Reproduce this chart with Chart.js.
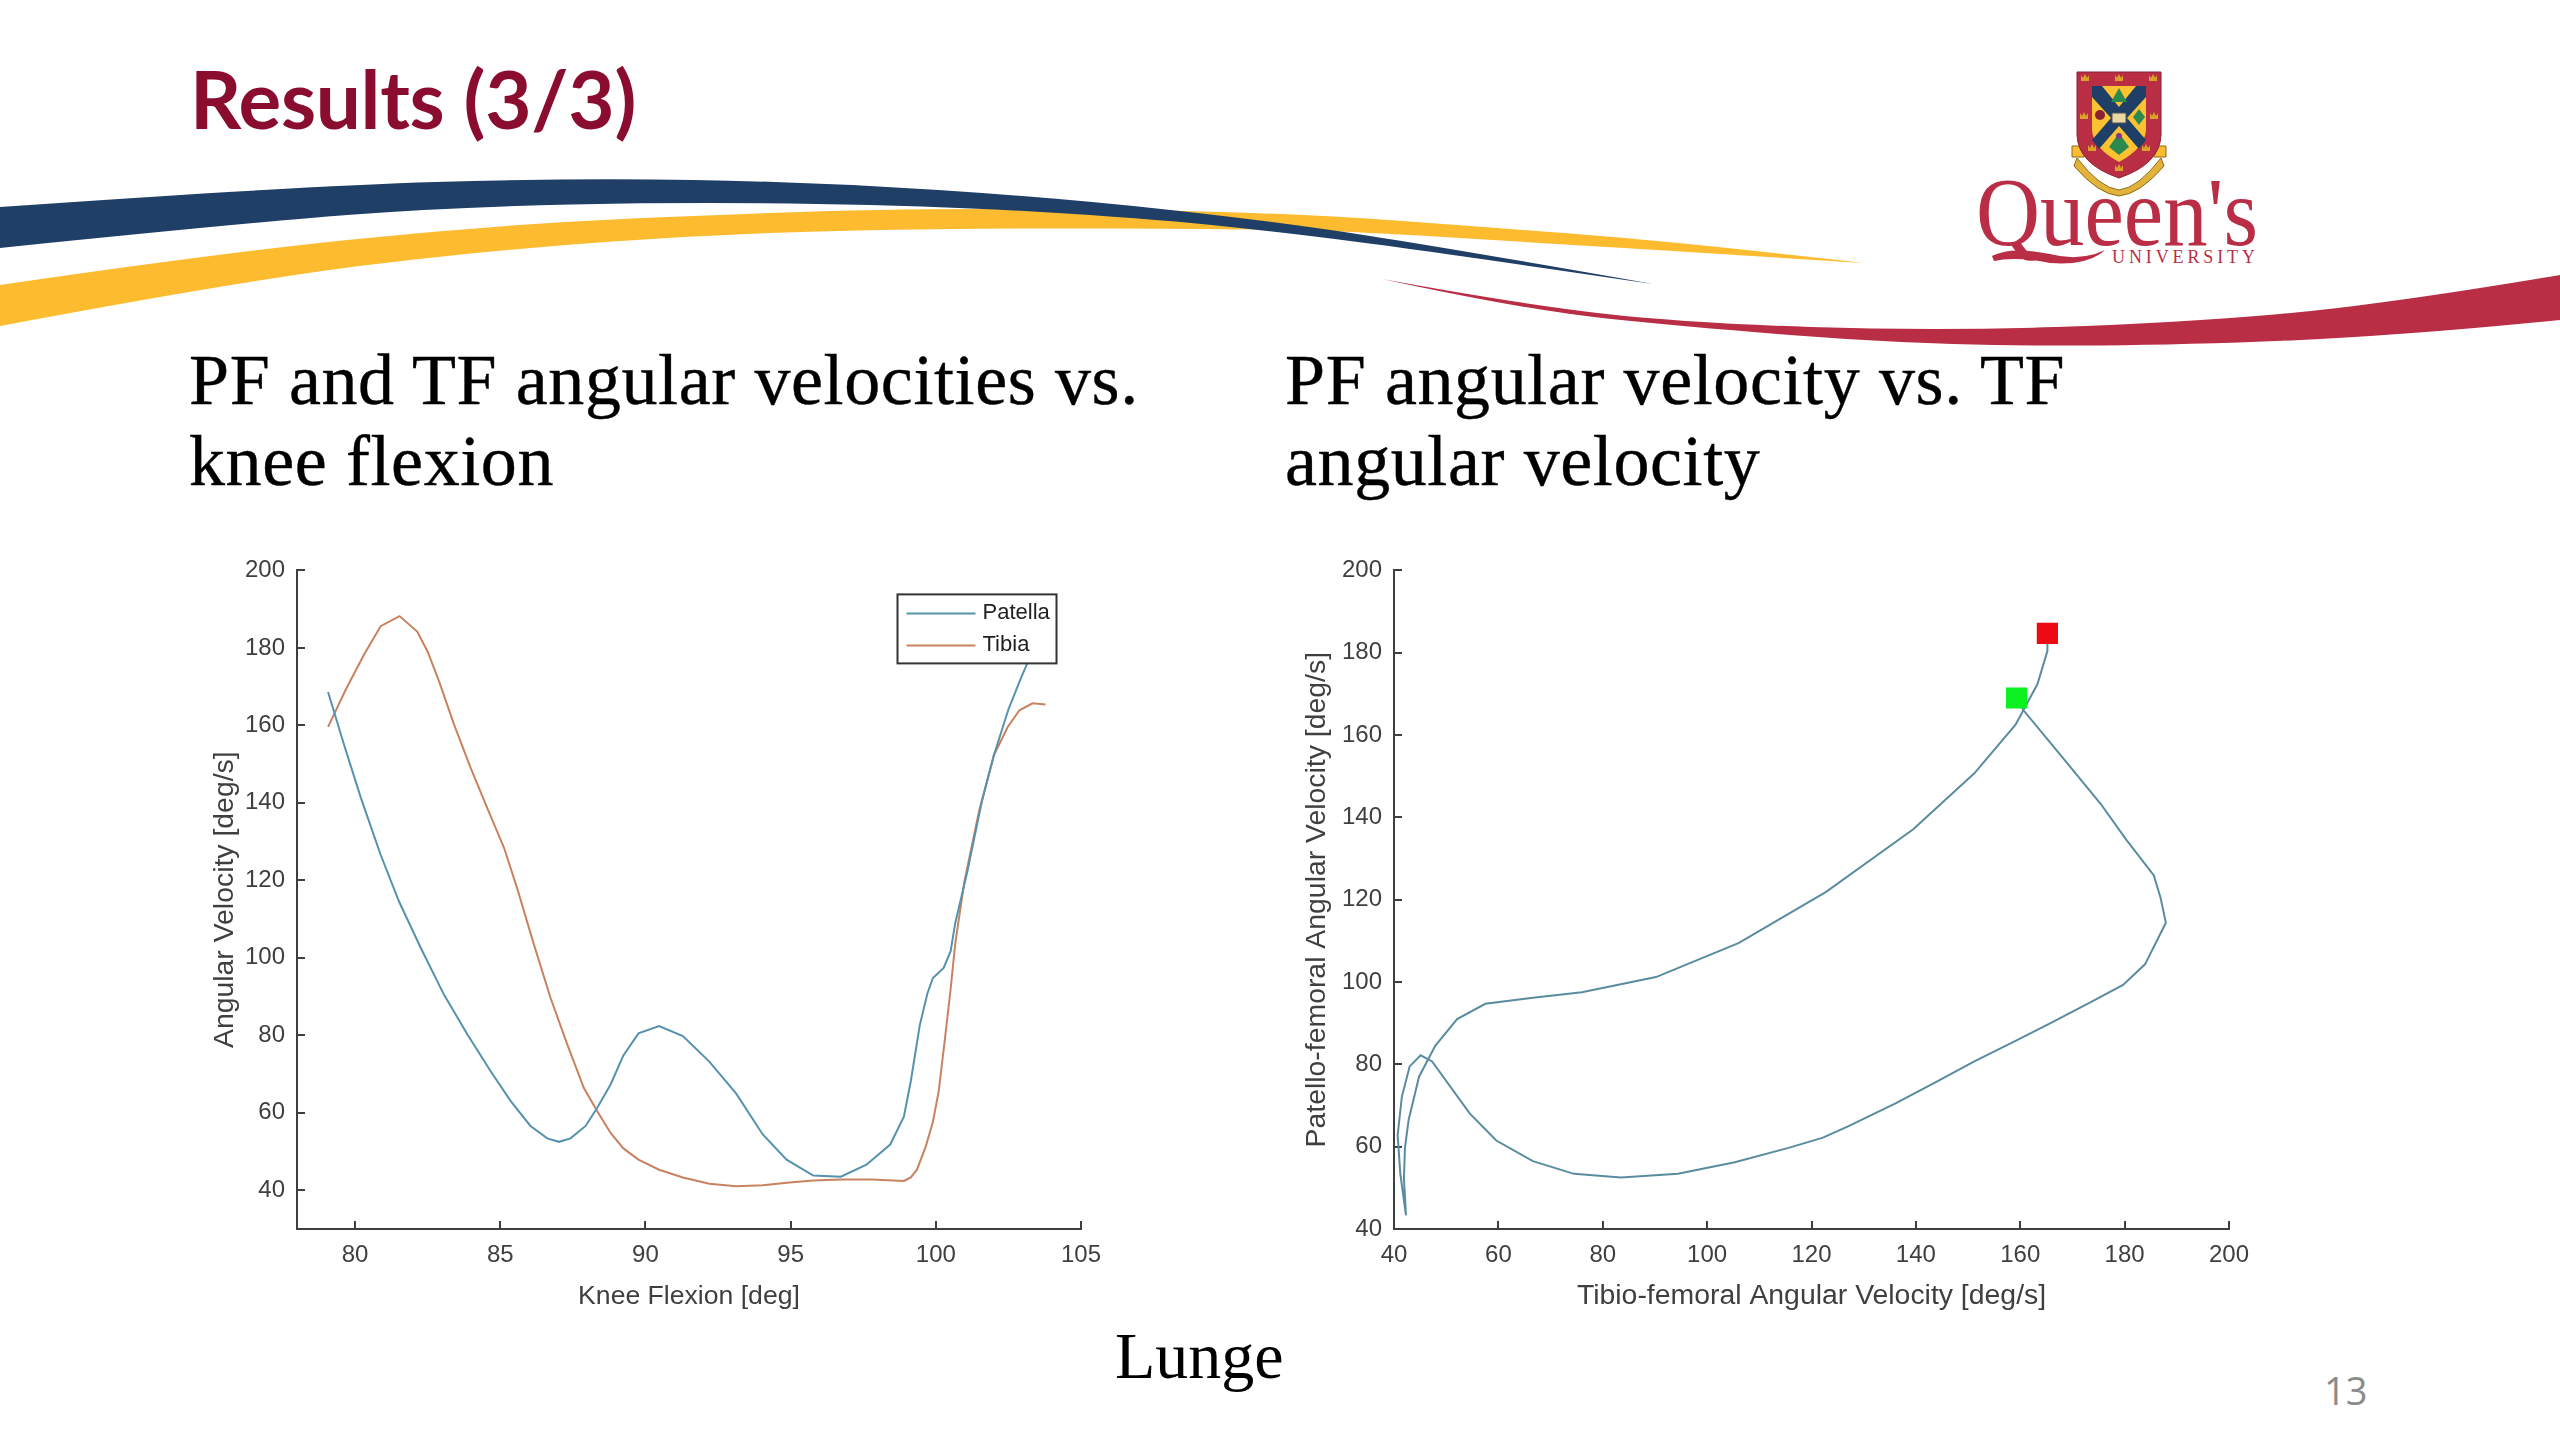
<!DOCTYPE html>
<html>
<head>
<meta charset="utf-8">
<title>Results (3/3)</title>
<script src="https://cdn.jsdelivr.net/npm/chart.js@4"></script>
<style>
  html, body { margin: 0; padding: 0; background: #fff; }
  #slide { position: relative; width: 2560px; height: 1440px; overflow: hidden; background: #fff; }
  #slide > svg { position: absolute; left: 0; top: 0; }
  .txt { position: absolute; white-space: nowrap; }
  #title { left: 190px; top: 50px; font: bold 80px Lato, sans-serif; color: #8a0c2e; letter-spacing: -0.3px; }
  .head { font: 72px/81px "Liberation Serif", serif; color: #000; letter-spacing: 0.6px; -webkit-text-stroke: 0.4px #000; }
  #headLeft { left: 189px; top: 340px; }
  #headRight { left: 1285px; top: 340px; }
  #lunge { left: 1115px; top: 1318px; font: 66px "Liberation Serif", serif; color: #000; }
  #pageNo { left: 2324px; top: 1364px; font: 38px "Open Sans", sans-serif; color: #8b8b8b; }
  .plot { position: absolute; top: 536px; height: 777px; }
</style>
</head>
<body>
<div id="slide">
  <svg id="banner" width="2560" height="1440" viewBox="0 0 2560 1440"></svg>
  <div class="txt" id="title">Results (3/3)</div>
  <div class="txt head" id="headLeft">PF and TF angular velocities vs.<br>knee flexion</div>
  <div class="txt head" id="headRight">PF angular velocity vs. TF<br>angular velocity</div>
  <div class="txt" id="lunge">Lunge</div>
  <div class="txt" id="pageNo">13</div>
  <div class="plot" style="left:208px;width:922px"><canvas id="flexionChart"></canvas></div>
  <div class="plot" style="left:1300px;width:980px"><canvas id="velocityChart"></canvas></div>
</div>

<script>
// Left chart values
const patellaFlexion = [79.07, 79.62, 80.2, 80.88, 81.51, 82.26, 83.06, 83.87, 84.67, 85.36, 86.04, 86.62, 87.02, 87.42, 87.94, 88.34, 88.8, 89.24, 89.76, 90.47, 91.29, 92.2, 93.12, 94.04, 94.86, 95.78, 96.73, 97.61, 98.43, 98.9, 99.14, 99.45, 99.71, 99.9, 100.27, 100.51, 100.67, 101.08, 101.59, 102, 102.5, 102.92, 103.16, 103.78];
const patellaVelocity = [168.6, 155, 141.3, 126.6, 114.6, 102.6, 90.5, 80.2, 70.7, 63, 56.6, 53.4, 52.5, 53.4, 56.6, 61.3, 67.3, 74.8, 80.5, 82.4, 79.8, 73.2, 65, 54.4, 47.9, 43.8, 43.5, 46.6, 51.8, 59, 68.2, 82.7, 90.8, 94.8, 97.4, 101.7, 109, 122.1, 140.5, 152.3, 164.1, 172, 176.2, 184.6];
const tibiaFlexion = [79.07, 79.69, 80.31, 80.88, 81.53, 82.14, 82.5, 82.89, 83.41, 83.98, 84.55, 85.13, 85.58, 86.16, 86.73, 87.31, 87.88, 88.34, 88.8, 89.24, 89.76, 90.47, 91.29, 92.2, 93.12, 94.04, 94.96, 95.78, 96.73, 97.8, 98.9, 99.14, 99.35, 99.65, 99.9, 100.1, 100.31, 100.51, 100.67, 100.98, 101.49, 102, 102.47, 102.88, 103.33, 103.78];
const tibiaVelocity = [159.6, 169.4, 178.3, 185.6, 188.2, 184.2, 179, 171.4, 160.2, 149, 138.7, 128.4, 118, 103.4, 89.7, 77.6, 66.4, 60.4, 54.8, 50.8, 47.9, 45.3, 43.3, 41.7, 41.05, 41.3, 42, 42.5, 42.8, 42.8, 42.4, 43.3, 45.3, 51.2, 57.7, 65.6, 78.8, 91.9, 103.7, 119.5, 137.9, 152.3, 159.5, 163.9, 165.7, 165.4];
const flexionTicks = [80, 85, 90, 95, 100, 105];
const leftVelocityTicks = [40, 60, 80, 100, 120, 140, 160, 180, 200];
const legendNames = ["Patella", "Tibia"];

// Right chart values
const tibioFemoral = [159.3, 160.7, 168.2, 175.4, 180.3, 185.6, 186.9, 187.9, 183.9, 179.7, 173.6, 165.8, 159.1, 151.2, 144, 136.1, 127.1, 122.2, 115.6, 105.3, 94.4, 83.5, 74.5, 66.6, 59.6, 54.5, 47.3, 45.1, 43, 41.5, 40.7, 41.2, 42.3, 41.9, 42.1, 42.8, 44.8, 47.9, 52.1, 57.5, 66.6, 76, 90.2, 106.1, 122.8, 139.5, 151.2, 159.1, 163.3, 165.2, 165.2];
const patelloFemoral = [169, 165.9, 154.4, 143.3, 134.6, 125.9, 120.4, 114.4, 104.3, 99.3, 95.2, 90, 85.7, 80.7, 75.8, 70.5, 65, 62.2, 59.7, 56.2, 53.4, 52.5, 53.4, 56.5, 61.5, 68.1, 80.7, 82.2, 79.5, 72.1, 62.8, 53.5, 43.3, 52.3, 59.7, 66.5, 77, 84.5, 91, 94.7, 96.2, 97.5, 101.2, 109.5, 121.9, 137.1, 150.7, 162.5, 172.4, 180.4, 184.7];
const startPoint = [159.3, 169];
const endPoint = [165.2, 184.7];
const velocityTicks = [40, 60, 80, 100, 120, 140, 160, 180, 200];

const blueLine = "#5592ad";
const loopLine = "#5a8c9f";
const orangeLine = "#c9825f";
const axisColor = "#3f3f3f";
const plotFont = "Liberation Sans";

function zip(xs, ys) {
  return xs.map((x, i) => ({ x: x, y: ys[i] }));
}

// MATLAB style axis: only left and bottom lines, ticks pointing inward
function axisOptions(min, max, tickValues, label, boxSize, titleSize) {
  return {
    type: "linear",
    min: min,
    max: max,
    afterBuildTicks: scale => { scale.ticks = tickValues.map(v => ({ value: v })); },
    afterFit: scale => {
      if (scale.isHorizontal()) scale.height = boxSize; else scale.width = boxSize;
    },
    grid: { drawOnChartArea: false, tickLength: -8, color: axisColor, lineWidth: 2 },
    border: { color: axisColor, width: 2 },
    ticks: { color: axisColor, padding: 20, maxRotation: 0, autoSkip: false, font: { family: plotFont, size: 24 } },
    title: { display: true, text: label, color: axisColor, padding: 0, font: { family: plotFont, size: titleSize } }
  };
}

// The MATLAB legend sits on top of the line, so it is drawn after the datasets
const legendBox = {
  id: "legendBox",
  afterDatasetsDraw(chart) {
    const ctx = chart.ctx;
    const right = chart.chartArea.right - 24.5;
    const top = chart.chartArea.top + 24;
    const sets = chart.data.datasets;
    ctx.save();
    ctx.fillStyle = "#fff";
    ctx.strokeStyle = "#333";
    ctx.lineWidth = 2;
    ctx.fillRect(right - 159, top, 159, 69);
    ctx.strokeRect(right - 159, top, 159, 69);
    ctx.font = "22px " + plotFont;
    ctx.textBaseline = "middle";
    legendNames.forEach((name, i) => {
      const y = top + 19 + i * 32;
      ctx.strokeStyle = sets[i].borderColor;
      ctx.beginPath();
      ctx.moveTo(right - 150, y);
      ctx.lineTo(right - 81, y);
      ctx.stroke();
      ctx.fillStyle = "#222";
      ctx.fillText(name, right - 74, y);
    });
    ctx.restore();
  }
};

Chart.defaults.animation = false;
Chart.defaults.responsive = true;
Chart.defaults.maintainAspectRatio = false;

new Chart(document.getElementById("flexionChart"), {
  type: "scatter",
  data: {
    datasets: [
      { label: legendNames[0], data: zip(patellaFlexion, patellaVelocity), showLine: true, borderColor: blueLine, borderWidth: 2, pointRadius: 0 },
      { label: legendNames[1], data: zip(tibiaFlexion, tibiaVelocity), showLine: true, borderColor: orangeLine, borderWidth: 2, pointRadius: 0 }
    ]
  },
  options: {
    layout: { padding: { top: 23, right: 49 } },
    plugins: { legend: { display: false }, tooltip: { enabled: false } },
    scales: {
      x: axisOptions(78, 105, flexionTicks, "Knee Flexion [deg]", 84, 26.6),
      y: axisOptions(30, 200, leftVelocityTicks, "Angular Velocity [deg/s]", 89, 28.4)
    }
  },
  plugins: [legendBox]
});

new Chart(document.getElementById("velocityChart"), {
  type: "scatter",
  data: {
    datasets: [
      { data: zip(tibioFemoral, patelloFemoral), showLine: true, borderColor: loopLine, borderWidth: 2, pointRadius: 0, order: 2 },
      { data: [{ x: startPoint[0], y: startPoint[1] }], pointStyle: "rect", pointRadius: 15, backgroundColor: "#0bf01f", borderWidth: 0, order: 1 },
      { data: [{ x: endPoint[0], y: endPoint[1] }], pointStyle: "rect", pointRadius: 15, backgroundColor: "#ee0a12", borderWidth: 0, order: 1 }
    ]
  },
  options: {
    layout: { padding: { top: 23, right: 51 } },
    plugins: { legend: { display: false }, tooltip: { enabled: false } },
    scales: {
      x: axisOptions(40, 200, velocityTicks, "Tibio-femoral Angular Velocity [deg/s]", 84, 28.4),
      y: axisOptions(40, 200, velocityTicks, "Patello-femoral Angular Velocity [deg/s]", 94, 28.4)
    }
  }
});

// Slide artwork: swooshes and the university crest
function smooth(pts) {
  let d = "";
  for (let i = 1; i < pts.length - 1; i++) {
    const mx = (pts[i][0] + pts[i + 1][0]) / 2;
    const my = (pts[i][1] + pts[i + 1][1]) / 2;
    d += `Q${pts[i][0]} ${pts[i][1]} ${i === pts.length - 2 ? pts[i + 1][0] : mx} ${i === pts.length - 2 ? pts[i + 1][1] : my}`;
  }
  return d;
}
function swoosh(topEdge, bottomEdge, fill) {
  const d = `M${topEdge[0][0]} ${topEdge[0][1]}` + smooth(topEdge) +
    `L${bottomEdge[0][0]} ${bottomEdge[0][1]}` + smooth(bottomEdge) + "Z";
  return `<path d="${d}" fill="${fill}"/>`;
}
const gold = swoosh(
  [[0, 285], [204, 255], [490, 225], [775, 212], [980, 208], [1280, 212], [1525, 230], [1688, 243], [1864, 263]],
  [[1864, 263], [1688, 252], [1525, 242], [1362, 232], [1257, 229], [980, 228], [735, 233], [490, 250], [245, 280], [0, 326]],
  "#fdbb30");
const navy = swoosh(
  [[0, 207], [300, 186], [571, 178], [816, 182], [1061, 198], [1280, 222], [1460, 250], [1653, 284]],
  [[1653, 284], [1443, 253], [1280, 232], [1143, 218], [939, 206], [694, 202], [449, 207], [245, 223], [0, 248]],
  "#1f3f66");
const red = swoosh(
  [[1382, 279], [1525, 305], [1688, 323], [1933, 331], [2178, 323], [2382, 305], [2560, 275]],
  [[2560, 320], [2382, 338], [2096, 347], [1892, 343], [1688, 327], [1525, 310], [1382, 279]],
  "#b92d45");
const crowns = [[2085, 78], [2119, 78], [2153, 78], [2084, 116], [2154, 116], [2092, 148], [2146, 148], [2119, 168]]
  .map(c => `<path d="M${c[0] - 4} ${c[1] - 3}l2 3 2-4 2 4 2-3v6h-8z" fill="#d9a328"/>`).join("");
const crest = `
  <path d="M2072 146h14l-2 11h-12z M2166 146h-14l2 11h12z" fill="#fdbb30" stroke="#8a6a16" stroke-width="1"/>
  <path d="M2077 158 Q2100 188 2119 190 Q2138 188 2161 158 L2164 166 Q2140 194 2119 196 Q2098 194 2074 166Z" fill="#e2b23a" stroke="#8a6a16" stroke-width="1"/>
  <path d="M2077 72H2161V135Q2160 164 2119 178Q2078 164 2077 135Z" fill="#b92d45" stroke="#8c2034" stroke-width="1"/>
  <path d="M2092 86H2146V130Q2145 148 2119 162Q2093 148 2092 130Z" fill="#fdc231"/>
  <path d="M2092 86H2102L2119 107 2136 86H2146V97L2127 118 2146 140 2139 149 2119 126 2099 149 2092 140 2111 118 2092 97Z" fill="#1f3f66"/>
  <path d="M2119 88l8 14h-16z" fill="#2d8a4e"/>
  <circle cx="2100" cy="115" r="5" fill="#8c2034"/>
  <path d="M2139 109l6 8-6 8-6-8z" fill="#2d8a4e"/>
  <path d="M2112 113h14v10h-14z" fill="#e8d9a0" stroke="#555" stroke-width="1"/>
  <path d="M2119 133l10 14-10 8-10-8z" fill="#2d8a4e"/>
  <circle cx="2119" cy="136" r="3" fill="#7a3b8c"/>
  ${crowns}
  <text x="1976" y="245" font-family="Liberation Serif" font-size="98" fill="#b92d45" textLength="282" lengthAdjust="spacingAndGlyphs">Queen's</text>
  <path d="M1992 256 Q2010 246 2050 254 Q2080 262 2105 250 Q2088 266 2050 263 Q2015 256 1994 261Z" fill="#b92d45"/>
  <text x="2112" y="263" font-family="Liberation Serif" font-size="18" fill="#b92d45" textLength="143">UNIVERSITY</text>`;
document.getElementById("banner").innerHTML = gold + navy + red + crest;
</script>
</body>
</html>
